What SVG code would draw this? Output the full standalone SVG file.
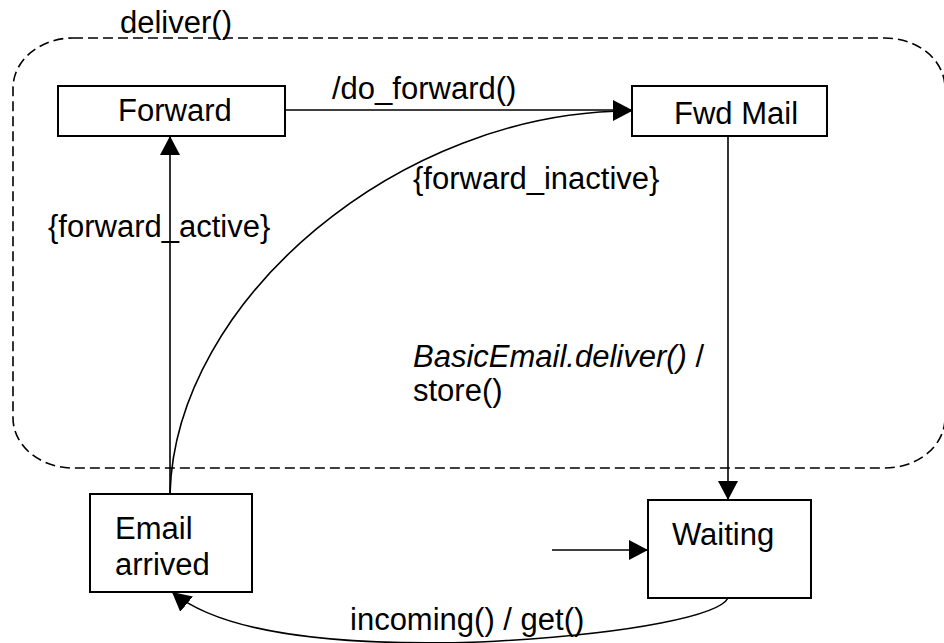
<svg xmlns="http://www.w3.org/2000/svg" width="944" height="643" viewBox="0 0 944 643">
  <style>
    .state { fill: #fff; stroke: #000; stroke-width: 2; }
    .label { font-family: "Liberation Sans", Arial, sans-serif; font-size: 31px; fill: #000; }
    .edge { fill: none; stroke: #000; stroke-width: 1.6; }
    .composite { fill: none; stroke: #000; stroke-width: 1.6; stroke-dasharray: 10 5; }
  </style>
  <defs>
    <marker id="arrow" markerUnits="userSpaceOnUse" markerWidth="20" markerHeight="20" refX="19" refY="10" orient="auto">
      <path d="M0,0 L19,10 L0,20 Z" fill="#000"/>
    </marker>
  </defs>

  <!-- composite state deliver() -->
  <g id="deliver">
    <rect class="composite" x="13" y="38" width="932" height="430" rx="60" ry="50"/>
    <text class="label" x="120" y="33">deliver()</text>
  </g>

  <g id="forward">
    <rect class="state" x="58" y="86" width="227" height="50"/>
    <text class="label" x="118" y="121">Forward</text>
  </g>

  <g id="fwd-mail">
    <rect class="state" x="632" y="86" width="195" height="50"/>
    <text class="label" x="674" y="124">Fwd Mail</text>
  </g>

  <g id="email-arrived">
    <rect class="state" x="90" y="494" width="162" height="98"/>
    <text class="label" x="115" y="539">Email</text>
    <text class="label" x="115" y="575">arrived</text>
  </g>

  <g id="waiting">
    <rect class="state" x="648" y="500" width="163" height="98"/>
    <text class="label" x="672" y="545">Waiting</text>
  </g>

  <g id="connectors">
    <!-- Forward -> Fwd Mail -->
    <line class="edge" x1="285" y1="110" x2="632" y2="110" marker-end="url(#arrow)"/>
    <text class="label" x="332" y="99">/do_forward()</text>

    <!-- Email arrived -> Forward -->
    <line class="edge" x1="170" y1="494" x2="170" y2="136" marker-end="url(#arrow)"/>
    <text class="label" x="48" y="237">{forward_active}</text>

    <!-- Email arrived -> Fwd Mail -->
    <path class="edge" d="M170,494 C175,300 400,110 632,111" marker-end="url(#arrow)"/>
    <text class="label" x="413" y="189">{forward_inactive}</text>

    <!-- Fwd Mail -> Waiting -->
    <line class="edge" x1="728" y1="136" x2="728" y2="500" marker-end="url(#arrow)"/>
    <text class="label" x="413" y="367"><tspan font-style="italic">BasicEmail.deliver()</tspan> /</text>
    <text class="label" x="413" y="401">store()</text>

    <!-- initial transition -> Waiting -->
    <line class="edge" x1="552" y1="550" x2="648" y2="550" marker-end="url(#arrow)"/>

    <!-- Waiting -> Email arrived -->
    <path class="edge" d="M728,598 C720,614 640,634 480,642 C350,646 225,636 172,592" marker-end="url(#arrow)"/>
    <text class="label" x="350" y="630">incoming() / get()</text>
  </g>
</svg>
